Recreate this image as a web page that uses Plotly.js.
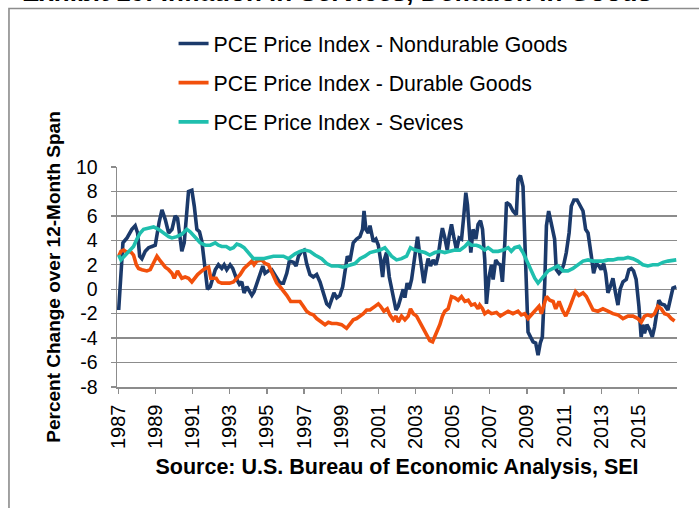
<!DOCTYPE html>
<html>
<head>
<meta charset="utf-8">
<script src="https://cdn.plot.ly/plotly-3.0.1.min.js"></script>
<style>html,body{margin:0;padding:0;background:#fff;}#chart{width:699px;height:508px;}</style>
</head>
<body>
<div id="chart"></div>
<script>
// Decimal-year positions and values (percent change over 12 months)
const nondurYears = [1987.02,1987.25,1987.47,1987.73,1987.91,1988.04,1988.15,1988.27,1988.45,1988.63,1988.81,1988.99,1989.2,1989.35,1989.53,1989.71,1989.89,1990.06,1990.19,1990.33,1990.42,1990.55,1990.69,1990.78,1990.96,1991.09,1991.23,1991.37,1991.5,1991.62,1991.73,1991.8,1991.95,1992.09,1992.22,1992.39,1992.57,1992.7,1992.84,1993.02,1993.16,1993.38,1993.52,1993.65,1993.77,1993.92,1994.06,1994.19,1994.31,1994.46,1994.6,1994.78,1994.9,1995.08,1995.26,1995.44,1995.71,1995.89,1996.07,1996.21,1996.43,1996.57,1996.7,1996.87,1997.0,1997.14,1997.32,1997.5,1997.68,1997.86,1998.04,1998.22,1998.36,1998.49,1998.61,1998.76,1998.93,1999.08,1999.2,1999.33,1999.47,1999.65,1999.83,2000.01,2000.15,2000.23,2000.33,2000.46,2000.55,2000.73,2000.87,2001.0,2001.12,2001.23,2001.32,2001.44,2001.59,2001.71,2001.84,2001.95,2002.07,2002.2,2002.34,2002.43,2002.55,2002.66,2002.79,2002.91,2003.02,2003.11,2003.2,2003.33,2003.45,2003.6,2003.68,2003.81,2003.95,2004.1,2004.22,2004.35,2004.45,2004.58,2004.71,2004.81,2004.94,2005.06,2005.21,2005.35,2005.48,2005.6,2005.71,2005.8,2005.89,2005.98,2006.1,2006.25,2006.37,2006.5,2006.61,2006.73,2006.82,2006.96,2007.09,2007.18,2007.32,2007.45,2007.57,2007.68,2007.81,2007.9,2008.08,2008.25,2008.43,2008.52,2008.65,2008.79,2008.88,2008.97,2009.06,2009.19,2009.33,2009.47,2009.6,2009.72,2009.83,2009.96,2010.05,2010.17,2010.26,2010.41,2010.49,2010.58,2010.73,2010.85,2010.98,2011.12,2011.27,2011.39,2011.53,2011.7,2011.84,2012.02,2012.16,2012.29,2012.47,2012.59,2012.73,2012.88,2013.0,2013.13,2013.24,2013.36,2013.49,2013.63,2013.77,2013.9,2014.02,2014.17,2014.35,2014.49,2014.62,2014.74,2014.88,2015.03,2015.15,2015.24,2015.33,2015.46,2015.6,2015.75,2015.87,2015.96,2016.1,2016.23,2016.41,2016.59,2016.71,2016.86,2017.04];
const nondurValues = [-1.7,3.8,4.2,4.9,5.2,4.6,2.7,2.5,3.1,3.4,3.5,3.6,5.5,6.5,5.7,4.6,4.9,6.0,5.8,4.3,3.1,3.8,6.2,8.0,8.1,6.8,4.9,4.7,3.9,2.1,0.8,0.0,0.2,1.0,1.6,2.0,1.7,2.0,1.6,2.0,1.7,0.8,0.4,0.6,-0.3,0.2,-0.1,-0.5,-0.2,0.5,1.0,1.9,1.3,1.5,1.6,1.2,0.5,0.5,1.3,2.3,2.2,1.9,2.7,3.1,3.2,2.1,1.2,1.0,1.2,0.6,-0.3,-1.2,-1.4,-0.7,-0.3,-0.7,-0.5,0.2,1.3,2.7,2.3,3.8,4.1,4.3,4.9,6.4,4.9,4.6,5.2,3.9,4.1,3.6,2.4,1.0,2.4,3.0,1.0,0.0,-0.9,-1.7,-1.4,-0.6,0.0,-0.7,0.5,0.0,0.8,2.1,3.2,4.3,3.2,2.0,0.5,1.9,2.5,1.9,2.4,2.0,2.7,4.1,5.0,4.2,3.2,4.3,5.3,4.3,3.2,4.2,4.1,6.0,7.9,6.9,4.3,3.0,4.9,4.1,5.3,5.6,4.9,2.4,-1.2,1.0,2.0,0.8,2.4,2.1,2.0,0.6,3.8,7.1,6.9,6.4,6.1,9.0,9.3,8.4,4.3,0.5,-3.5,-3.9,-4.3,-4.4,-5.4,-4.4,-3.9,0.5,5.2,6.4,5.7,4.9,4.1,1.6,1.3,1.5,2.0,3.0,4.6,6.8,7.3,7.3,6.9,6.4,4.9,4.6,2.7,1.3,2.1,1.9,1.6,2.1,1.3,-0.3,0.2,0.9,-0.3,-1.3,0.0,0.6,0.8,1.6,1.7,1.5,0.8,-1.4,-3.9,-2.9,-3.6,-2.9,-3.3,-3.9,-3.1,-2.2,-0.9,-1.2,-1.3,-1.7,-0.9,0.1,0.2];

const durYears = [1987.02,1987.14,1987.29,1987.47,1987.65,1987.82,1987.97,1988.09,1988.27,1988.54,1988.72,1988.86,1989.08,1989.22,1989.35,1989.53,1989.71,1989.89,1990.01,1990.19,1990.3,1990.42,1990.6,1990.78,1990.96,1991.09,1991.27,1991.5,1991.68,1991.86,1991.98,1992.13,1992.27,1992.39,1992.57,1992.75,1992.99,1993.2,1993.38,1993.56,1993.77,1994.01,1994.19,1994.31,1994.46,1994.72,1994.9,1995.08,1995.21,1995.35,1995.53,1995.71,1995.89,1996.07,1996.28,1996.52,1996.78,1996.96,1997.14,1997.32,1997.5,1997.68,1997.95,1998.13,1998.31,1998.49,1998.76,1999.02,1999.29,1999.47,1999.65,1999.83,2000.01,2000.19,2000.37,2000.55,2000.82,2001.0,2001.12,2001.3,2001.48,2001.62,2001.8,2001.95,2002.07,2002.25,2002.43,2002.61,2002.73,2002.88,2003.06,2003.24,2003.42,2003.6,2003.77,2003.92,2004.04,2004.17,2004.31,2004.45,2004.58,2004.76,2004.94,2005.12,2005.3,2005.48,2005.66,2005.84,2006.01,2006.19,2006.37,2006.46,2006.61,2006.73,2006.91,2007.09,2007.36,2007.57,2007.75,2007.99,2008.25,2008.52,2008.7,2008.88,2009.06,2009.24,2009.42,2009.65,2009.78,2009.96,2010.05,2010.23,2010.41,2010.55,2010.73,2010.91,2011.09,2011.27,2011.44,2011.62,2011.8,2012.02,2012.2,2012.38,2012.56,2012.82,2013.09,2013.36,2013.63,2013.9,2014.17,2014.44,2014.71,2014.97,2015.15,2015.33,2015.51,2015.69,2015.87,2016.05,2016.23,2016.41,2016.59,2016.77,2016.95];
const durValues = [2.7,3.1,3.2,3.0,3.1,2.8,2.0,1.7,1.6,1.5,1.6,2.0,2.7,2.4,2.1,1.8,1.6,1.3,0.9,1.5,1.2,0.9,1.0,0.9,0.6,0.9,1.2,1.5,1.7,1.8,0.9,0.9,0.9,0.6,0.5,0.5,0.5,0.6,0.9,1.2,1.7,2.0,2.3,2.0,2.3,2.4,2.1,2.0,1.6,1.2,0.5,0.2,-0.1,-0.5,-1.0,-1.0,-1.0,-1.4,-1.8,-2.0,-2.1,-2.4,-2.7,-2.9,-2.7,-2.8,-2.8,-2.9,-3.2,-2.8,-2.5,-2.4,-2.2,-2.0,-1.7,-1.7,-1.4,-1.2,-1.4,-1.8,-1.6,-2.1,-2.5,-2.2,-2.7,-2.2,-2.5,-2.2,-1.6,-2.0,-2.2,-2.7,-3.1,-3.6,-4.2,-4.3,-3.9,-3.3,-2.9,-2.2,-1.8,-1.6,-0.6,-0.7,-0.9,-0.6,-1.0,-0.9,-1.3,-1.2,-1.6,-1.3,-1.6,-2.0,-1.8,-2.0,-1.9,-2.2,-2.0,-1.8,-2.0,-1.8,-2.1,-2.0,-2.4,-2.1,-1.8,-1.4,-2.0,-1.2,-0.6,-0.9,-1.0,-1.6,-1.0,-1.7,-2.2,-1.6,-0.9,-0.2,-0.5,-0.3,-0.6,-1.2,-1.7,-1.8,-1.6,-1.8,-2.0,-2.1,-2.4,-2.2,-2.2,-2.4,-2.7,-2.2,-2.1,-2.2,-2.0,-1.4,-1.6,-2.0,-2.1,-2.4,-2.6];

const servYears = [1987.02,1987.14,1987.32,1987.56,1987.82,1988.0,1988.18,1988.36,1988.63,1988.9,1989.17,1989.44,1989.71,1989.89,1990.15,1990.42,1990.69,1990.87,1991.05,1991.23,1991.41,1991.68,1991.95,1992.22,1992.39,1992.57,1992.81,1993.02,1993.2,1993.38,1993.56,1993.77,1994.01,1994.28,1994.54,1994.81,1995.08,1995.35,1995.62,1995.89,1996.16,1996.25,1996.52,1996.78,1997.05,1997.32,1997.59,1997.95,1998.22,1998.49,1998.85,1999.11,1999.47,1999.74,2000.01,2000.28,2000.55,2000.82,2001.09,2001.35,2001.53,2001.71,2001.98,2002.25,2002.52,2002.73,2002.97,2003.24,2003.51,2003.77,2004.04,2004.31,2004.58,2004.85,2005.12,2005.39,2005.66,2005.84,2006.01,2006.28,2006.46,2006.73,2006.91,2007.18,2007.45,2007.72,2007.99,2008.16,2008.34,2008.58,2008.79,2009.06,2009.24,2009.42,2009.6,2009.78,2009.96,2010.14,2010.41,2010.67,2010.94,2011.21,2011.48,2011.75,2012.02,2012.29,2012.55,2012.82,2013.09,2013.36,2013.63,2013.9,2014.17,2014.44,2014.71,2014.97,2015.24,2015.51,2015.78,2016.05,2016.32,2016.59,2016.86,2017.04];
const servValues = [2.8,2.4,2.7,3.1,3.5,4.1,4.6,4.9,5.0,5.1,4.9,4.6,4.3,4.2,4.3,4.5,4.9,4.7,4.4,4.1,3.8,3.6,3.6,3.8,3.6,3.5,3.5,3.3,3.4,3.7,3.6,3.4,3.0,2.5,2.5,2.5,2.6,2.7,2.7,2.7,2.5,2.6,2.9,3.1,3.2,3.1,2.8,2.5,2.1,1.9,1.9,1.8,2.0,2.1,2.5,2.7,3.0,3.1,3.2,3.4,3.1,2.7,2.4,2.5,2.7,3.4,3.2,3.1,3.0,2.8,3.0,3.1,3.0,3.1,3.2,3.2,3.5,3.8,3.6,3.6,3.5,3.2,3.4,3.1,3.1,3.2,3.4,3.1,3.4,3.5,3.0,2.1,1.5,0.9,0.5,0.8,1.2,1.5,1.7,1.9,1.5,1.5,1.7,2.0,2.3,2.4,2.3,2.3,2.3,2.4,2.4,2.5,2.5,2.6,2.5,2.3,2.0,1.9,2.0,2.0,2.2,2.3,2.4,2.4];

const seriesNames = ["PCE Price Index - Nondurable Goods","PCE Price Index - Durable Goods","PCE Price Index - Sevices"];
const tickYears = [1987,1989,1991,1993,1995,1997,1999,2001,2003,2005,2007,2009,2011,2013,2015];
const tickLabels = ["1987","1989","1991","1993","1995","1997","1999","2001","2003","2005","2007","2009","2011","2013","2015"];
const yTicks = [-8,-6,-4,-2,0,2,4,6,8,10];
const yTickLabels = ["-8","-6","-4","-2","0","2","4","6","8","10"];

const FONT = "Liberation Sans, Arial, sans-serif";
const colors = ["#1b3a6b", "#f2500c", "#1fbfae"];

const traces = [
  {x: nondurYears, y: nondurValues, name: seriesNames[0], legendgroup: "a"},
  {x: durYears, y: durValues, name: seriesNames[1], legendgroup: "b"},
  {x: servYears, y: servValues, name: seriesNames[2], legendgroup: "c"}
].map((t, i) => Object.assign(t, {
  type: "scatter", mode: "lines",
  line: {color: colors[i], width: 3.6, shape: "linear"},
  hoverinfo: "skip"
}));

const layout = {
  width: 699, height: 508,
  margin: {l: 117, r: 22, t: 167, b: 121, pad: 0},
  paper_bgcolor: "#ffffff", plot_bgcolor: "#ffffff",
  font: {family: FONT, color: "#000"},
  showlegend: true,
  legend: {
    x: 0.101, xanchor: "left", y: 1.654, yanchor: "top",
    bgcolor: "rgba(0,0,0,0)", borderwidth: 0,
    font: {family: FONT, size: 21.3, color: "#000"},
    tracegroupgap: 8.5, traceorder: "grouped"
  },
  xaxis: {
    type: "linear", range: [1986.93, 2017.08],
    tickmode: "array", tickvals: tickYears, ticktext: tickLabels,
    tickangle: -90, tickfont: {family: FONT, size: 20, color: "#000"},
    ticks: "outside", ticklen: 5, tickcolor: "#8c8c8c", tickwidth: 1.3,
    ticklabelstandoff: 3,
    showgrid: false, zeroline: false,
    showline: true, linecolor: "#8c8c8c", linewidth: 1.5,
    title: {text: "Source: U.S. Bureau of Economic Analysis, SEI", font: {family: FONT, size: 21.5, color: "#000", weight: "bold"}, standoff: 11},
    automargin: false, fixedrange: true
  },
  yaxis: {
    range: [-8, 10], tickmode: "array", tickvals: yTicks, ticktext: yTickLabels,
    tickfont: {family: FONT, size: 19.5, color: "#000"},
    ticks: "outside", ticklen: 5, tickcolor: "#8c8c8c", tickwidth: 1.3,
    ticklabelstandoff: 9,
    showgrid: true, gridcolor: "#8c8c8c", gridwidth: 1.4,
    zeroline: false, showline: true, linecolor: "#8c8c8c", linewidth: 1.5,
    title: {text: "Percent Change over 12-Month Span", font: {family: FONT, size: 19, color: "#000", weight: "bold"}, standoff: 10},
    automargin: false, fixedrange: true
  },
  annotations: [{
    text: "<b>Exhibit 10: Inflation in Services, Deflation in Goods</b>",
    xref: "paper", yref: "paper", x: 0.393, y: 1.718, xanchor: "center", yanchor: "bottom",
    showarrow: false, font: {family: FONT, size: 26, color: "#000"}
  }],
  shapes: [{
    type: "rect", xref: "paper", yref: "paper", layer: "below",
    x0: -0.1929, x1: 1.08, y0: -0.65, y1: 1.7205,
    line: {color: "#8c8c8c", width: 1.6}, fillcolor: "rgba(0,0,0,0)"
  }]
};
Plotly.newPlot("chart", traces, layout, {staticPlot: true, displayModeBar: false});
</script>
</body>
</html>
